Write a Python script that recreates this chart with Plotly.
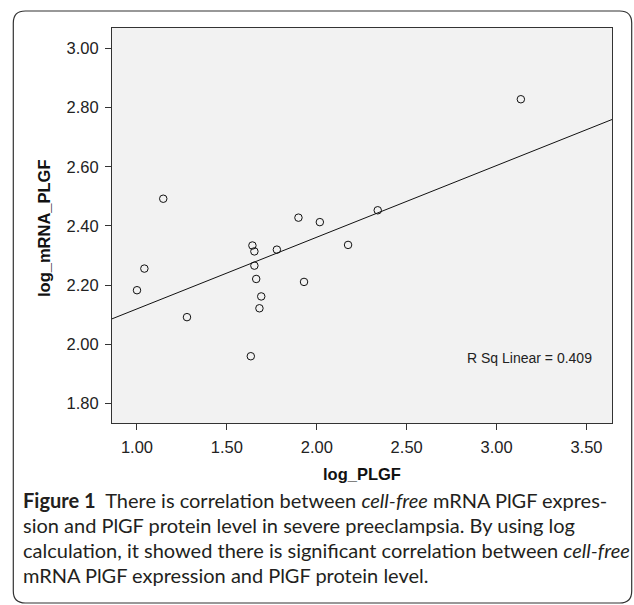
import numpy as np
import plotly.graph_objects as go

# ---- data ----
log_PLGF = [1.00, 1.041, 1.146, 1.278, 1.633, 1.642, 1.653, 1.653, 1.663,
            1.691, 1.681, 1.778, 1.898, 1.929, 2.017, 2.174, 2.339, 3.135]
log_mRNA_PLGF = [2.183, 2.256, 2.492, 2.092, 1.960, 2.334, 2.314, 2.266, 2.221,
                 2.162, 2.122, 2.320, 2.428, 2.211, 2.413, 2.336, 2.453, 2.828]
x_ticks = [1.00, 1.50, 2.00, 2.50, 3.00, 3.50]
y_ticks = [1.80, 2.00, 2.20, 2.40, 2.60, 2.80, 3.00]
x_range = [0.861, 3.642]
y_range = [1.7345, 3.0686]
r_sq_label = "R Sq Linear = 0.409"
caption_lines = [
    "<b>Figure 1</b>  There is correlation between <i>cell-free</i> mRNA PlGF expres-",
    "sion and PlGF protein level in severe preeclampsia. By using log",
    "calculation, it showed there is significant correlation between <i>cell-free</i>",
    "mRNA PlGF expression and PlGF protein level.",
]

# ---- figure geometry (pixels) ----
W, H = 634, 605
L, R, T, B = 112, 612, 28, 423
PW, PH = R - L, B - T


def px2x(px):
    return (px - L) / PW


def py2y(py):
    return (B - py) / PH


slope, intercept = np.polyfit(log_PLGF, log_mRNA_PLGF, 1)
fit_x = np.array(x_range)
fit_y = intercept + slope * fit_x

fig = go.Figure()
fig.add_trace(go.Scatter(
    x=fit_x, y=fit_y, mode="lines",
    line=dict(color="#111111", width=1), hoverinfo="skip", showlegend=False))
fig.add_trace(go.Scatter(
    x=log_PLGF, y=log_mRNA_PLGF, mode="markers",
    marker=dict(symbol="circle-open", size=7.5, color="#111111",
                line=dict(width=1, color="#111111")),
    showlegend=False))

tick_font = dict(family="Liberation Sans, Arial, sans-serif", size=16.5, color="#222222")
axis_common = dict(showgrid=False, zeroline=False, showline=True, mirror=True,
                   linecolor="#333333", linewidth=1, ticks="outside", ticklen=6,
                   tickcolor="#333333", tickwidth=1, tickfont=tick_font,
                   ticklabelstandoff=3)

fig.update_xaxes(range=x_range, tickvals=x_ticks,
                 ticktext=[f"{v:.2f}" for v in x_ticks], **axis_common)
fig.update_yaxes(range=y_range, tickvals=y_ticks,
                 ticktext=[f"{v:.2f}" for v in y_ticks], **axis_common)

annotations = [
    dict(text="<b>log_PLGF</b>", xref="paper", yref="paper", x=0.5, y=py2y(474),
         xanchor="center", yanchor="middle", showarrow=False,
         font=dict(family="Liberation Sans, Arial, sans-serif", size=16.5, color="#111111")),
    dict(text="<b>log_mRNA_PLGF</b>", xref="paper", yref="paper", x=px2x(44), y=py2y(228),
         xanchor="center", yanchor="middle", textangle=-90, showarrow=False,
         font=dict(family="Liberation Sans, Arial, sans-serif", size=16.5, color="#111111")),
    dict(text=r_sq_label, xref="paper", yref="paper", x=px2x(594), y=py2y(358),
         xanchor="right", yanchor="middle", showarrow=False,
         font=dict(family="Liberation Sans, Arial, sans-serif", size=14, color="#222222")),
]
line_ys = [500, 525, 550, 575]
for txt, ly in zip(caption_lines, line_ys):
    annotations.append(dict(
        text=txt, xref="paper", yref="paper", x=px2x(21), y=py2y(ly),
        xanchor="left", yanchor="middle", showarrow=False, align="left",
        font=dict(family="Lato, Noto Sans, sans-serif", size=20, color="#231f20")))

# outer rounded frame
x0, y0, x1, y1, r = 13.3, 11, 631.7, 603, 12


def P(px, py):
    return f"{px2x(px):.5f},{py2y(py):.5f}"


frame_path = (f"M {P(x0, y0 + r)} Q {P(x0, y0)} {P(x0 + r, y0)} "
              f"L {P(x1 - r, y0)} Q {P(x1, y0)} {P(x1, y0 + r)} "
              f"L {P(x1, y1 - r)} Q {P(x1, y1)} {P(x1 - r, y1)} "
              f"L {P(x0 + r, y1)} Q {P(x0, y1)} {P(x0, y1 - r)} Z")

fig.update_layout(
    width=W, height=H,
    margin=dict(l=L, r=W - R, t=T, b=H - B, pad=0),
    paper_bgcolor="white", plot_bgcolor="#f2f2f2",
    annotations=annotations,
    shapes=[dict(type="path", path=frame_path, xref="paper", yref="paper",
                 line=dict(color="#333333", width=1.2), layer="below")],
)

fig.write_html("out.html", config={"displayModeBar": False},
               post_script="document.body.style.margin='0';document.body.style.overflow='hidden';")
